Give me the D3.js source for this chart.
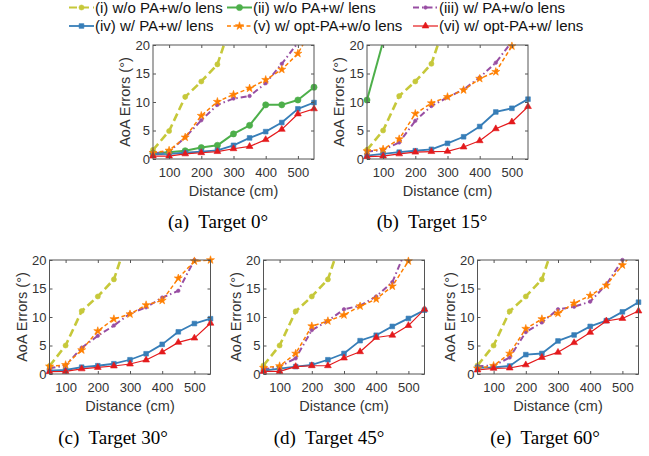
<!DOCTYPE html>
<html><head><meta charset="utf-8">
<script src="https://cdn.jsdelivr.net/npm/d3@7"></script>
<style>body{margin:0;background:#fff;} svg{display:block;}</style>
</head><body>
<svg id="c" width="649" height="456"></svg>
<script>
// ---------- data ----------
const distances = [50,100,150,200,250,300,350,400,450,500,550];
const xTicks = [100,200,300,400,500];
const yTicks = [0,5,10,15,20];
const seriesLabels = ["(i) w/o PA+w/o lens","(ii) w/o PA+w/ lens","(iii) w/ PA+w/o lens",
                      "(iv) w/ PA+w/ lens","(v) w/ opt-PA+w/o lens","(vi) w/ opt-PA+w/ lens"];
const captions = ["(a)  Target 0°","(b)  Target 15°","(c)  Target 30°","(d)  Target 45°","(e)  Target 60°"];
const N = null; // value off scale (> 20°)

// Target 0°
const a_i   = [1.6, 4.9, 10.9, 13.6, 16.6, 25, N, N, N, N, N];
const a_ii  = [1.0, 1.2, 1.45, 2.0, 2.4, 4.4, 5.9, 9.5, 9.5, 10.35, 12.6];
const a_iii = [1.0, 1.3, 3.8, 6.8, 9.5, 10.6, 11.05, 13.3, 16.7, 20.4, N];
const a_iv  = [0.8, 0.9, 1.1, 1.3, 1.5, 2.4, 3.7, 4.8, 6.4, 8.8, 9.9];
const a_v   = [1.1, 1.5, 3.8, 7.6, 10.05, 11.3, 12.4, 13.9, 15.7, 18.5, 23.5];
const a_vi  = [0.5, 0.5, 0.9, 1.1, 1.3, 1.8, 2.2, 3.4, 5.2, 7.9, 8.8];
// Target 15°
const b_i   = [1.6, 5.0, 11.05, 13.6, 16.7, 25, N, N, N, N, N];
const b_ii  = [10.35, 20.6, N, N, N, N, N, N, N, N, N];
const b_iii = [1.3, 1.6, 2.9, 6.7, 9.3, 10.8, 12.2, 14.3, 16.9, 20.6, N];
const b_iv  = [0.6, 0.9, 1.2, 1.45, 1.7, 2.75, 3.9, 5.7, 8.25, 8.9, 10.5];
const b_v   = [1.4, 1.7, 3.5, 7.95, 9.8, 10.9, 12.1, 14.1, 15.3, 19.8, 24];
const b_vi  = [0.4, 0.5, 0.9, 1.2, 1.3, 1.35, 2.1, 3.2, 5.3, 6.5, 9.2];
// Target 30°
const c_i   = [1.4, 5.0, 11.05, 13.6, 16.6, 25, N, N, N, N, N];
const c_ii  = [N, N, N, N, N, N, N, N, N, N, N];
const c_iii = [1.0, 1.5, 4.6, 6.7, 8.5, 10.6, 11.7, 13.4, 14.6, 20.0, 22];
const c_iv  = [0.6, 0.7, 1.2, 1.45, 1.8, 2.5, 3.55, 5.2, 7.4, 8.85, 9.7];
const c_v   = [1.35, 1.6, 4.2, 7.55, 9.65, 10.5, 12.1, 12.9, 16.8, 19.8, 20.0];
const c_vi  = [0.4, 0.45, 0.9, 1.15, 1.4, 1.75, 2.45, 3.85, 5.55, 6.3, 8.9];
// Target 45°
const d_i   = [1.5, 5.0, 11.0, 13.6, 16.6, 25, N, N, N, N, N];
const d_ii  = [N, N, N, N, N, N, N, N, N, N, N];
const d_iii = [0.8, 1.3, 2.75, 7.7, 9.3, 11.35, 12.0, 13.6, 16.1, 22.8, N];
const d_iv  = [0.6, 0.95, 1.3, 1.6, 2.5, 3.6, 5.85, 6.8, 8.35, 9.75, 11.2];
const d_v   = [1.1, 1.4, 3.6, 8.4, 9.3, 10.35, 11.9, 13.15, 15.4, 19.8, 23];
const d_vi  = [0.45, 0.45, 1.3, 1.45, 1.45, 2.8, 3.9, 6.4, 6.8, 8.5, 11.35];
// Target 60°
const e_i   = [1.5, 5.0, 11.0, 13.6, 16.6, 25, N, N, N, N, N];
const e_ii  = [N, N, N, N, N, N, N, N, N, N, N];
const e_iii = [1.4, 1.45, 2.9, 7.35, 9.05, 11.35, 11.8, 12.7, 15.7, 20.0, 24];
const e_iv  = [1.1, 1.15, 1.4, 3.4, 3.6, 5.8, 6.85, 8.35, 9.35, 10.9, 12.6];
const e_v   = [1.0, 1.45, 3.6, 7.95, 9.65, 10.65, 12.4, 13.75, 15.55, 19.1, 22.3];
const e_vi  = [0.7, 1.0, 1.05, 1.6, 2.9, 3.8, 5.5, 7.3, 9.3, 9.75, 11.05];

// ---------- styles ----------
const colors = ["#c6c83a","#4daf4a","#984ea3","#377eb8","#ff7f00","#e41a1c"];
const dashes = ["8,4", null, "6,3,1.5,3", null, "4,2.5", null];
const widths = [2.6, 2, 2, 1.8, 1.5, 1.2];
const symbols = [d3.symbolCircle, d3.symbolCircle, d3.symbolCircle, d3.symbolSquare, d3.symbolStar, d3.symbolTriangle];
const symSizes = [20, 30, 10, 22, 20, 20];

const sans = "'Liberation Sans', Arial, Helvetica, sans-serif";
const serif = "'Liberation Serif', 'Times New Roman', Times, serif";
const W = 161, H = 114;
const panels = [
  {x:153,   y:45,  data:[a_i,a_ii,a_iii,a_iv,a_v,a_vi], cx:218, cy:228},
  {x:367,   y:45,  data:[b_i,b_ii,b_iii,b_iv,b_v,b_vi], cx:432, cy:228},
  {x:49.5,  y:260, data:[c_i,c_ii,c_iii,c_iv,c_v,c_vi], cx:113, cy:444},
  {x:263.5, y:260, data:[d_i,d_ii,d_iii,d_iv,d_v,d_vi], cx:329, cy:444},
  {x:477.5, y:260, data:[e_i,e_ii,e_iii,e_iv,e_v,e_vi], cx:545, cy:444}
];

const svg = d3.select("#c");

panels.forEach((p, pi) => {
  const g = svg.append("g").attr("transform", `translate(${p.x},${p.y})`);
  const xs = d3.scaleLinear().domain([50,550]).range([0,W]);
  const ys = d3.scaleLinear().domain([0,20]).range([H,0]);
  const cid = "clip" + pi;
  g.append("clipPath").attr("id", cid).append("rect").attr("width", W).attr("height", H);

  const line = d3.line().defined(d => d[1] !== null).x(d => xs(d[0])).y(d => ys(d[1]));
  const lg = g.append("g").attr("clip-path", `url(#${cid})`);
  p.data.forEach((vals, si) => {
    const pts = distances.map((d, i) => [d, vals[i]]);
    lg.append("path").attr("d", line(pts)).attr("fill", "none")
      .attr("stroke", colors[si]).attr("stroke-width", widths[si])
      .attr("stroke-dasharray", dashes[si]).attr("stroke-linejoin", "round");
    const sym = d3.symbol().type(symbols[si]).size(symSizes[si]);
    g.append("g").selectAll("path").data(pts.filter(d => d[1] !== null && d[1] <= 20))
      .join("path").attr("d", sym)
      .attr("transform", d => `translate(${xs(d[0])},${ys(d[1])})`)
      .attr("fill", colors[si]).attr("stroke", colors[si]).attr("stroke-width", 0.6);
  });

  const tickCol = "#555";
  const ax = [
    g.append("g").attr("transform", `translate(0,${H})`).call(d3.axisBottom(xs).tickValues(xTicks).tickSizeInner(-3).tickSizeOuter(0).tickPadding(9)),
    g.append("g").call(d3.axisTop(xs).tickValues(xTicks).tickSizeInner(-3).tickSizeOuter(0).tickFormat("")),
    g.append("g").call(d3.axisLeft(ys).tickValues(yTicks).tickSizeInner(-3).tickSizeOuter(0).tickPadding(3)),
    g.append("g").attr("transform", `translate(${W},0)`).call(d3.axisRight(ys).tickValues(yTicks).tickSizeInner(-3).tickSizeOuter(0).tickFormat(""))
  ];
  ax.forEach(a => {
    a.select(".domain").remove();
    a.selectAll("line").attr("stroke", tickCol);
    a.selectAll("text").attr("font-family", sans).attr("font-size", 13).attr("fill", "#333");
  });
  g.append("rect").attr("width", W).attr("height", H).attr("fill", "none")
    .attr("stroke", tickCol).attr("stroke-width", 1);

  g.append("text").attr("transform", `translate(-23,${H/2}) rotate(-90)`)
    .attr("text-anchor", "middle").attr("font-family", sans).attr("font-size", 14.5)
    .attr("fill", "#333").text("AoA Errors (°)");
  g.append("text").attr("x", W/2).attr("y", H + 37).attr("text-anchor", "middle")
    .attr("font-family", sans).attr("font-size", 14.5).attr("fill", "#333").text("Distance (cm)");

  svg.append("text").attr("x", p.cx).attr("y", p.cy).attr("text-anchor", "middle")
    .attr("font-family", serif).attr("font-size", 19).attr("fill", "#000")
    .attr("xml:space", "preserve").style("white-space", "pre").text(captions[pi]);
});

// ---------- legend ----------
const legX = [69, 227, 413];
const legY = [7.5, 26];
seriesLabels.forEach((lab, si) => {
  const col = si % 3, row = Math.floor(si / 3);
  const x0 = legX[col], y0 = legY[row];
  const lg = svg.append("g").attr("transform", `translate(${x0},${y0})`);
  lg.append("line").attr("x1", 0).attr("x2", 25).attr("y1", 0).attr("y2", 0)
    .attr("stroke", colors[si]).attr("stroke-width", Math.min(widths[si], 2.2))
    .attr("stroke-dasharray", dashes[si]);
  lg.append("path").attr("d", d3.symbol().type(symbols[si]).size(symSizes[si])())
    .attr("transform", "translate(12.5,0)").attr("fill", colors[si]).attr("stroke", colors[si]).attr("stroke-width", 0.6);
  lg.append("text").attr("x", 26).attr("y", 5.2).attr("font-family", sans).attr("font-size", 15)
    .attr("fill", "#111").text(lab);
});
</script>
</body></html>
